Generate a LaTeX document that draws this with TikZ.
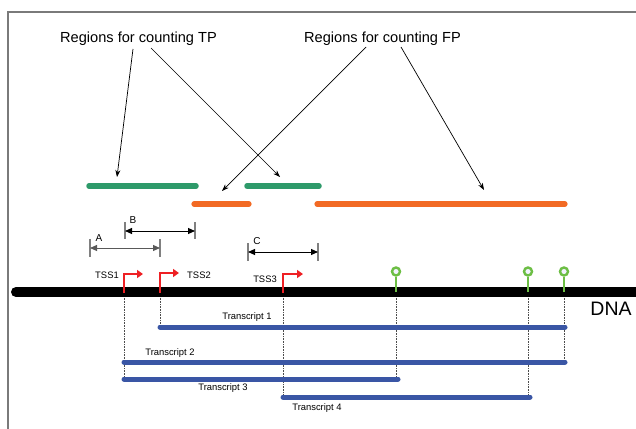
\documentclass[tikz,border=0pt]{standalone}
\usepackage{fontspec}
\setmainfont{Liberation Sans}
\usetikzlibrary{arrows.meta}
\definecolor{regGreen}{HTML}{2E9A6A}
\definecolor{regOrange}{HTML}{F26A24}
\definecolor{trBlue}{HTML}{3A56A5}
\definecolor{tssRed}{HTML}{EE2024}
\definecolor{polyGreen}{HTML}{6DBE45}
\definecolor{frameGray}{HTML}{7A7A7A}
\tikzset{
  greenbar/.style={line width=5.5pt, line cap=round, regGreen},
  orangebar/.style={line width=5.2pt, line cap=round, regOrange},
  trbar/.style={line width=5pt, line cap=round, trBlue},
  pointer/.style={-{Stealth[length=7pt,width=5pt]}, line width=0.7pt, black},
  dimline/.style={{Triangle[length=7pt,width=6pt]}-{Triangle[length=7pt,width=6pt]}, line width=1pt},
  tick/.style={line width=1.2pt, gray},
  tssarrow/.style={-{Triangle[length=6pt,width=8pt]}, line width=2.8pt, tssRed},
  guide/.style={line width=0.6pt, densely dotted, black!70},
  stem/.style={line width=2.5pt, polyGreen},
  loop/.style={line width=2.4pt, draw=polyGreen, fill=blue!5},
  title/.style={font=\fontsize{14.6}{16}\selectfont, anchor=base, inner sep=0pt},
  small/.style={font=\fontsize{9.4}{11}\selectfont, anchor=base, inner sep=0pt},
}
\begin{document}
\begin{tikzpicture}[x=1pt,y=-1pt]
\useasboundingbox (0,0) rectangle (636,428);
\draw[frameGray, line width=1.4pt] (8,440) -- (8,12) -- (650,12);

% titles
\node[title] (tp) at (138.5,43) {Regions for counting TP};
\node[title] (fp) at (382.5,43) {Regions for counting FP};

% region bars
\coordinate (g1a) at (89,186); \coordinate (g1b) at (196,186);
\coordinate (g2a) at (247,186); \coordinate (g2b) at (319,186);
\coordinate (o1a) at (194,204); \coordinate (o1b) at (249,204);
\coordinate (o2a) at (317,204); \coordinate (o2b) at (565,204);
\draw[greenbar] (g1a) -- (g1b);
\draw[greenbar] (g2a) -- (g2b);
\draw[orangebar] (o1a) -- (o1b);
\draw[orangebar] (o2a) -- (o2b);

% pointer arrows
\coordinate (tps1) at (133,49); \coordinate (tpe1) at (117,177);
\coordinate (tps2) at (151,48); \coordinate (tpe2) at (280,177);
\coordinate (fps1) at (366,47); \coordinate (fpe1) at (222,191);
\coordinate (fps2) at (401,47); \coordinate (fpe2) at (484,190);
\draw[pointer] (tps1) -- (tpe1);
\draw[pointer] (tps2) -- (tpe2);
\draw[pointer] (fps1) -- (fpe1);
\draw[pointer] (fps2) -- (fpe2);

% dimension markers
\coordinate (Aa) at (90,248); \coordinate (Ab) at (160,248);
\coordinate (Ba) at (125,231); \coordinate (Bb) at (195,231);
\coordinate (Ca) at (248,252); \coordinate (Cb) at (318,252);
\draw[tick] (90,239) -- (90,257);
\draw[tick] (160,239) -- (160,257);
\draw[dimline, black!65] (Aa) -- (Ab);
\draw[tick] (125,222) -- (125,239);
\draw[tick] (195,222) -- (195,239);
\draw[dimline] (Ba) -- (Bb);
\draw[tick] (248,243) -- (248,261);
\draw[tick] (318,243) -- (318,261);
\draw[dimline] (Ca) -- (Cb);
\node[small, font=\fontsize{10}{12}\selectfont] (lA) at (99,241) {A};
\node[small, font=\fontsize{10}{12}\selectfont] (lB) at (133,223) {B};
\node[small, font=\fontsize{10}{12}\selectfont] (lC) at (257,244) {C};

% guides (dotted)
\draw[guide] (124,296) -- (124,379);
\draw[guide] (160,296) -- (160,327);
\draw[guide] (283,296) -- (283,397);
\draw[guide] (396,296) -- (396,379);
\draw[guide] (528,296) -- (528,397);
\draw[guide] (564,296) -- (564,362);

% DNA
\coordinate (dnaL) at (16,292); \coordinate (dnaR) at (650,292);
\draw[line width=10pt, line cap=round, black] (dnaL) -- (dnaR);
\node[font=\fontsize{19.5}{22}\selectfont, anchor=base, inner sep=0pt] (dna) at (611,315) {DNA};

% TSS arrows
\draw[tssarrow] (124,293) -- (124,274) -- (143,274);
\draw[tssarrow] (160,293) -- (160,273) -- (179,273);
\draw[tssarrow] (283,293) -- (283,274) -- (303,274);
\node[small] (t1) at (107,278) {TSS1};
\node[small] (t2) at (199,278) {TSS2};
\node[small] (t3) at (265,282) {TSS3};

% polyA lollipops
\foreach \x/\n in {396/p1, 528/p2, 564/p3} {
  \draw[stem] (\x,292) -- (\x,277);
  \node[circle, loop, minimum size=8pt, inner sep=0pt] (\n) at (\x,271.5) {};
}

% transcripts
\coordinate (r1a) at (160,327); \coordinate (r1b) at (565,327);
\coordinate (r2a) at (124,362); \coordinate (r2b) at (565,362);
\coordinate (r3a) at (124,379); \coordinate (r3b) at (398,379);
\coordinate (r4a) at (283,397); \coordinate (r4b) at (530,397);
\draw[trbar] (r1a) -- (r1b);
\draw[trbar] (r2a) -- (r2b);
\draw[trbar] (r3a) -- (r3b);
\draw[trbar] (r4a) -- (r4b);
\node[small] (tr1) at (247,319) {Transcript 1};
\node[small] (tr2) at (170,355) {Transcript 2};
\node[small] (tr3) at (223,390) {Transcript 3};
\node[small] (tr4) at (317,410) {Transcript 4};
\end{tikzpicture}
\end{document}
